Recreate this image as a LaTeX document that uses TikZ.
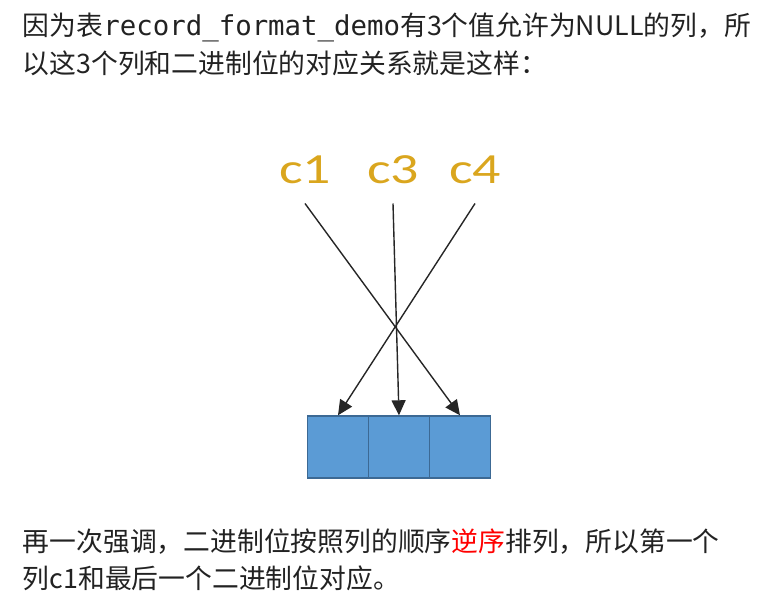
\documentclass[tikz,border=0pt]{standalone}
\usepackage{fontspec}
\setmainfont{Noto Sans CJK SC}
\setmonofont{DejaVu Sans Mono}
\newfontfamily\labelfont{Carlito}[FakeStretch=1.3]
\usepackage{xcolor}
\usetikzlibrary{positioning,matrix,arrows.meta}
\definecolor{textgray}{RGB}{34,34,34}
\definecolor{labelgold}{RGB}{218,166,30}
\definecolor{cellblue}{RGB}{91,155,213}
\definecolor{cellline}{RGB}{60,105,148}

\begin{document}
\begin{tikzpicture}[
    x=1pt, y=-1pt,
    textline/.style={anchor=base west, inner sep=0pt, text=textgray, font=\fontsize{26.8}{32}\selectfont},
    collabel/.style={anchor=base, inner sep=0pt, text=labelgold, font=\labelfont\fontsize{43}{50}\selectfont},
    bitarrow/.style={draw=black!85, line width=1.4pt, -{Triangle[length=15pt,width=14pt]}}
]
\useasboundingbox (0,0) rectangle (780,610);

\node[textline] (top1) at (22.7,36) {因为表\texttt{\fontsize{27.4}{32}\selectfont record\_format\_demo}有3个值允许为NULL的列，所};
\node[textline] (top2) at (22.7,74) {以这3个列和二进制位的对应关系就是这样：};

\node[collabel] (c1) at (305,183) {c1};
\node[collabel] (c3) at (393,183) {c3};
\node[collabel] (c4) at (475,183) {c4};

\matrix (bits) at (399,447) [
    matrix of nodes,
    nodes in empty cells,
    column sep=-1.4pt,
    every node/.style={
        draw=cellline,
        fill=cellblue,
        line width=1.4pt,
        minimum width=61pt,
        minimum height=62pt,
        inner sep=0pt
    }
]{
    {} & {} & {} \\
};

\draw[bitarrow] ([yshift=-20pt]c1.south) -- (bits-1-3.north);
\draw[bitarrow] ([yshift=-20pt]c3.south) -- (bits-1-2.north);
\draw[bitarrow] ([yshift=-20pt]c4.south) -- (bits-1-1.north);

\node[textline] (bottom1) at (22.7,551) {再一次强调，二进制位按照列的顺序\textcolor{red}{逆序}排列，所以第一个};
\node[textline] (bottom2) at (22.7,588) {列c1和最后一个二进制位对应。};
\end{tikzpicture}
\end{document}
